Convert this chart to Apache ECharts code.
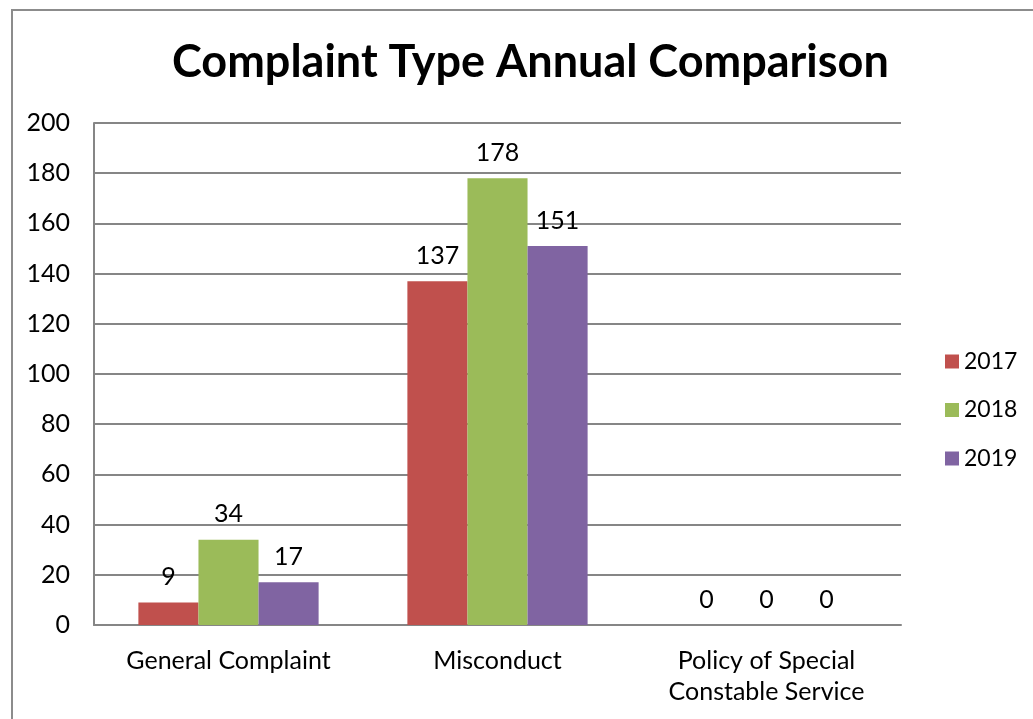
<!DOCTYPE html>
<html><head><meta charset="utf-8">
<script src="https://cdn.jsdelivr.net/npm/echarts@6/dist/echarts.min.js"></script>
<style>html,body{margin:0;padding:0;background:#fff;}#c{width:1033px;height:719px;}</style>
</head><body><div id="c"></div>
<script>
const categories = ['General Complaint', 'Misconduct', 'Policy of Special\nConstable Service'];
const years = ['2017', '2018', '2019'];
const v2017 = [9, 137, 0];
const v2018 = [34, 178, 0];
const v2019 = [17, 151, 0];
const colors = ['#C0504D', '#9BBB59', '#8064A2'];
const FONT = 'Lato, "Noto Sans", sans-serif';
const chart = echarts.init(document.getElementById('c'));
const values = [v2017, v2018, v2019];
chart.setOption({
  animation: false,
  graphic: [{type:'rect', shape:{x:12,y:10,width:1100,height:800}, style:{fill:'none', stroke:'#8c8c8c', lineWidth:2}}],
  title: {text:'Complaint Type Annual Comparison', left:167, top:35, textStyle:{fontFamily:FONT, fontWeight:'bold', fontSize:45, color:'#000'}},
  legend: {orient:'vertical', left:940, top:345, itemWidth:14, itemHeight:14, itemGap:25.5, icon:'rect',
    textStyle:{fontFamily:FONT, fontSize:23, lineHeight:23, color:'#000'}, data: years},
  grid: {left:94, top:123, right:132, bottom:94},
  xAxis: {type:'category', data:categories,
    axisLine:{lineStyle:{color:'#868686', width:2}}, axisTick:{show:false},
    axisLabel:{fontFamily:FONT, fontSize:25, color:'#000', margin:20, lineHeight:31}},
  yAxis: {type:'value', min:0, max:200, interval:20,
    axisLine:{show:true, lineStyle:{color:'#868686', width:2}},
    splitLine:{lineStyle:{color:'#868686', width:2}},
    axisLabel:{fontFamily:FONT, fontSize:25, color:'#000', margin:24}},
  series: years.map((y,i)=>({name:y, type:'bar', data:values[i], barGap:'0%', barCategoryGap:'33%',
    itemStyle:{color:colors[i]},
    label:{show:true, position:'top', distance:13, fontFamily:FONT, fontSize:25, color:'#000'}}))
});
</script></body></html>
